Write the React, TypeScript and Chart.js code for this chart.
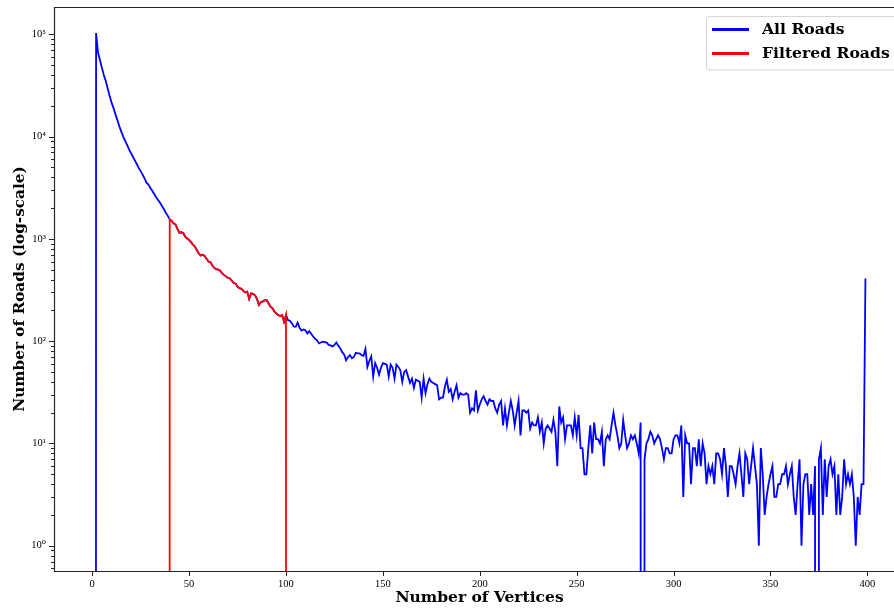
import { useEffect, useRef } from 'react';
import { Chart, registerables } from 'chart.js';

Chart.register(...registerables);

// Number of vertices per road (x categories)
const vertexCounts: number[] = Array.from({ length: 399 }, (_, i) => i + 1);

// Number of roads for each vertex count (x = 1 .. 399)
const allRoads: number[] = [
  0, 103000, 66000, 56000, 47000, 40000, 35000, 29500, 25000,
  21500, 19000, 16500, 14500, 12600, 11200, 10000, 9100, 8300, 7500,
  6900, 6350, 5850, 5400, 4950, 4600, 4250, 3900, 3550, 3400,
  3150, 2950, 2750, 2550, 2400, 2250, 2100, 1950, 1800, 1680,
  1550, 1500, 1420, 1380, 1250, 1150, 1160, 1140, 1050, 1010,
  975, 930, 880, 840, 780, 720, 690, 700, 680, 640,
  600, 590, 550, 520, 505, 500, 490, 460, 445, 430,
  415, 412, 390, 370, 365, 340, 330, 325, 310, 300,
  305, 259, 294, 290, 281, 260, 226, 240, 245, 250,
  253, 235, 217, 210, 195, 187, 180, 176, 180, 155,
  180, 161, 158, 150, 139, 138, 152, 135, 127, 130,
  128, 119, 125, 118, 111, 106, 102, 95, 97, 99,
  98, 97, 92, 91, 89, 92, 97, 90, 85, 78,
  74, 65, 70, 73, 68, 70, 77, 76, 76, 73,
  72, 84, 56, 64, 71, 45, 61, 55, 47, 55,
  61, 60, 59, 45, 59, 55, 43, 59, 56, 52,
  40, 50, 52, 45, 39, 43, 35, 42, 41, 40,
  28, 43, 31, 38, 43, 40, 39, 38, 37, 27,
  28, 28, 36, 42, 32, 34, 27, 32, 37, 28,
  31, 30, 30, 31, 30, 20, 22, 21, 33, 21,
  24, 27, 29, 26, 24, 27, 26, 26, 22, 20,
  24, 26, 15, 22, 15, 20, 26, 21, 15, 20,
  26, 12, 21, 21, 20, 21, 14, 16, 15, 15,
  18, 13, 16, 10, 14, 15, 14, 13, 17, 13,
  6, 23, 16, 18, 11, 15, 15, 15, 12, 18,
  12, 19, 9, 9, 5, 5, 9, 15, 8, 16,
  11, 11, 10, 13, 6, 11, 12, 11, 15, 20,
  15, 12, 9, 10, 17, 12, 9, 10, 12, 11,
  12, 10, 8, 16, 0, 7, 10, 11, 13, 12,
  10, 11, 12, 11, 9, 7, 9, 9, 8, 8,
  11, 12, 12, 10, 15, 3, 12, 10, 10, 4,
  9, 9, 6, 11, 6, 10, 8, 4, 6, 5,
  6, 4, 8, 8, 7, 5, 9, 6, 3, 6,
  6, 5, 4, 6, 8, 5, 3, 8, 7, 4,
  6, 9, 6, 4, 1, 9, 5, 2, 3, 4,
  5, 6, 3, 3, 4, 4, 5, 5, 6, 4,
  5, 6, 3, 2, 4, 7, 1, 4, 5, 5,
  2, 4, 2, 6, 0, 7, 9, 2, 7, 3,
  6, 7, 5, 6, 2, 5, 2, 3, 7, 4,
  5, 4, 5, 3, 1, 3, 2, 4, 4, 410,
];

// Vertex range kept by the filter (inclusive)
const filteredRange: number[] = [40, 100];

const xTickValues: number[] = [0, 50, 100, 150, 200, 250, 300, 350, 400];
const yDecadeExponents: number[] = [0, 1, 2, 3, 4, 5];
const seriesLabels: string[] = ['All Roads', 'Filtered Roads'];
const seriesColors: string[] = ['#0000ff', '#ff0000'];
const axisTitles: string[] = ['Number of Vertices', 'Number of Roads (log-scale)'];

const TICK_FONT = "'Liberation Serif', 'DejaVu Serif', serif";
const TITLE_FONT = "'DejaVu Serif', 'Liberation Serif', serif";
const ZERO_FLOOR = 1e-100; // zero counts drop below the log axis, like matplotlib's clip
const SUP: Record<string, string> = {
  '0': '\u2070', '1': '\u00b9', '2': '\u00b2', '3': '\u00b3', '4': '\u2074',
  '5': '\u2075', '6': '\u2076', '7': '\u2077', '8': '\u2078', '9': '\u2079', '-': '\u207b',
};
const supStr = (n: number) => String(n).split('').map((c) => SUP[c] || c).join('');

export default function App() {
  const ref = useRef<HTMLCanvasElement>(null);

  useEffect(() => {
    document.body.style.margin = '0';
    const canvas = ref.current;
    if (!canvas) return;

    const filtered = allRoads.map((v, i) =>
      vertexCounts[i] >= filteredRange[0] && vertexCounts[i] <= filteredRange[1] ? v : 0
    );
    const toPoints = (arr: number[]) =>
      arr.map((v, i) => ({ x: vertexCounts[i], y: v === 0 ? ZERO_FLOOR : v }));

    const framePlugin = {
      id: 'frame',
      afterDraw(chart: any) {
        const { ctx, chartArea: a, scales } = chart;
        const xs = scales.x;
        const ys = scales.y;
        ctx.save();
        ctx.strokeStyle = '#262626';
        ctx.lineWidth = 1.2;
        // spines
        ctx.beginPath();
        ctx.moveTo(a.left - 0.5, a.top + 0.5);
        ctx.lineTo(a.right, a.top + 0.5);
        ctx.moveTo(a.left - 0.5, a.top);
        ctx.lineTo(a.left - 0.5, a.bottom + 0.5);
        ctx.lineTo(a.right, a.bottom + 0.5);
        ctx.stroke();
        // tick marks
        ctx.lineWidth = 1;
        ctx.beginPath();
        xTickValues.forEach((v) => {
          const px = Math.round(xs.getPixelForValue(v)) + 0.5;
          ctx.moveTo(px, a.bottom + 1);
          ctx.lineTo(px, a.bottom + 5);
        });
        for (let e = -1; e <= 5; e++) {
          for (let m = 1; m <= 9; m++) {
            const v = m * Math.pow(10, e);
            if (v < ys.min || v > ys.max) continue;
            const py = Math.round(ys.getPixelForValue(v)) + 0.5;
            const len = m === 1 ? 5 : 3;
            ctx.moveTo(a.left - 1, py);
            ctx.lineTo(a.left - 1 - len, py);
          }
        }
        ctx.stroke();

        // legend
        const lx = 706;
        const ly = 16;
        const lw = 220;
        const lh = 54;
        const r = 3;
        ctx.fillStyle = 'rgba(255,255,255,0.85)';
        ctx.strokeStyle = '#d6d6d6';
        ctx.lineWidth = 1;
        ctx.beginPath();
        ctx.moveTo(lx + r, ly + 0.5);
        ctx.lineTo(lx + lw - r, ly + 0.5);
        ctx.arcTo(lx + lw, ly + 0.5, lx + lw, ly + r, r);
        ctx.lineTo(lx + lw, ly + lh - r);
        ctx.arcTo(lx + lw, ly + lh, lx + lw - r, ly + lh, r);
        ctx.lineTo(lx + r, ly + lh);
        ctx.arcTo(lx + 0.5, ly + lh, lx + 0.5, ly + lh - r, r);
        ctx.lineTo(lx + 0.5, ly + r);
        ctx.arcTo(lx + 0.5, ly + 0.5, lx + r, ly + 0.5, r);
        ctx.closePath();
        ctx.fill();
        ctx.stroke();
        seriesLabels.forEach((label, i) => {
          const cy = ly + 13.5 + i * 24;
          ctx.strokeStyle = seriesColors[i];
          ctx.lineWidth = 3;
          ctx.beginPath();
          ctx.moveTo(712, cy);
          ctx.lineTo(749, cy);
          ctx.stroke();
          ctx.fillStyle = '#000';
          ctx.font = `bold 15.6px ${TITLE_FONT}`;
          ctx.textBaseline = 'middle';
          ctx.textAlign = 'left';
          ctx.fillText(label, 762, cy + 0.5);
        });
        ctx.restore();
      },
    };

    const chart = new Chart(canvas, {
      type: 'line',
      data: {
        datasets: [
          {
            label: seriesLabels[0],
            data: toPoints(allRoads),
            borderColor: seriesColors[0],
            borderWidth: 1.8,
            pointRadius: 0,
            tension: 0,
            order: 2,
          },
          {
            label: seriesLabels[1],
            data: toPoints(filtered),
            borderColor: seriesColors[1],
            borderWidth: 1.8,
            pointRadius: 0,
            tension: 0,
            order: 1,
          },
        ],
      },
      options: {
        animation: false,
        responsive: false,
        events: [],
        layout: { padding: { top: 7, left: 0, right: 0, bottom: 0 } },
        plugins: { legend: { display: false }, tooltip: { enabled: false } },
        scales: {
          x: {
            type: 'linear',
            min: -19.2,
            max: 418.9,
            grid: { display: false, drawTicks: false },
            border: { display: false },
            afterBuildTicks: (scale: any) => {
              scale.ticks = xTickValues.map((v) => ({ value: v }));
            },
            afterFit: (scale: any) => {
              scale.height = 39;
              scale.paddingLeft = 0;
              scale.paddingRight = 0;
            },
            ticks: {
              autoSkip: false,
              maxRotation: 0,
              padding: 7,
              color: '#000',
              font: { family: TICK_FONT, size: 10.5 },
              callback: (v: any) => String(v),
            },
            title: {
              display: true,
              text: axisTitles[0],
              color: '#000',
              font: { family: TITLE_FONT, size: 15.5, weight: 'bold' },
              padding: { top: 0, bottom: 2.7 },
            },
          },
          y: {
            type: 'logarithmic',
            min: 0.566,
            max: 185000,
            grid: { display: false, drawTicks: false },
            border: { display: false },
            afterBuildTicks: (scale: any) => {
              scale.ticks = yDecadeExponents.map((e) => ({ value: Math.pow(10, e), major: true }));
            },
            afterFit: (scale: any) => {
              scale.width = 55;
              scale.paddingTop = 0;
              scale.paddingBottom = 0;
            },
            ticks: {
              autoSkip: false,
              padding: 9,
              color: '#000',
              font: { family: TICK_FONT, size: 10.5 },
              callback: (v: any) => '10' + supStr(Math.round(Math.log10(Number(v)))),
            },
            title: {
              display: true,
              text: axisTitles[1],
              color: '#000',
              font: { family: TITLE_FONT, size: 15.3, weight: 'bold' },
              padding: { top: 10.8, bottom: 0 },
            },
          },
        },
      },
      plugins: [framePlugin],
    });

    return () => chart.destroy();
  }, []);

  return (
    <div style={{ width: 894, height: 610, overflow: 'hidden', position: 'relative' }}>
      <canvas ref={ref} width={904} height={610} style={{ display: 'block' }} />
    </div>
  );
}
